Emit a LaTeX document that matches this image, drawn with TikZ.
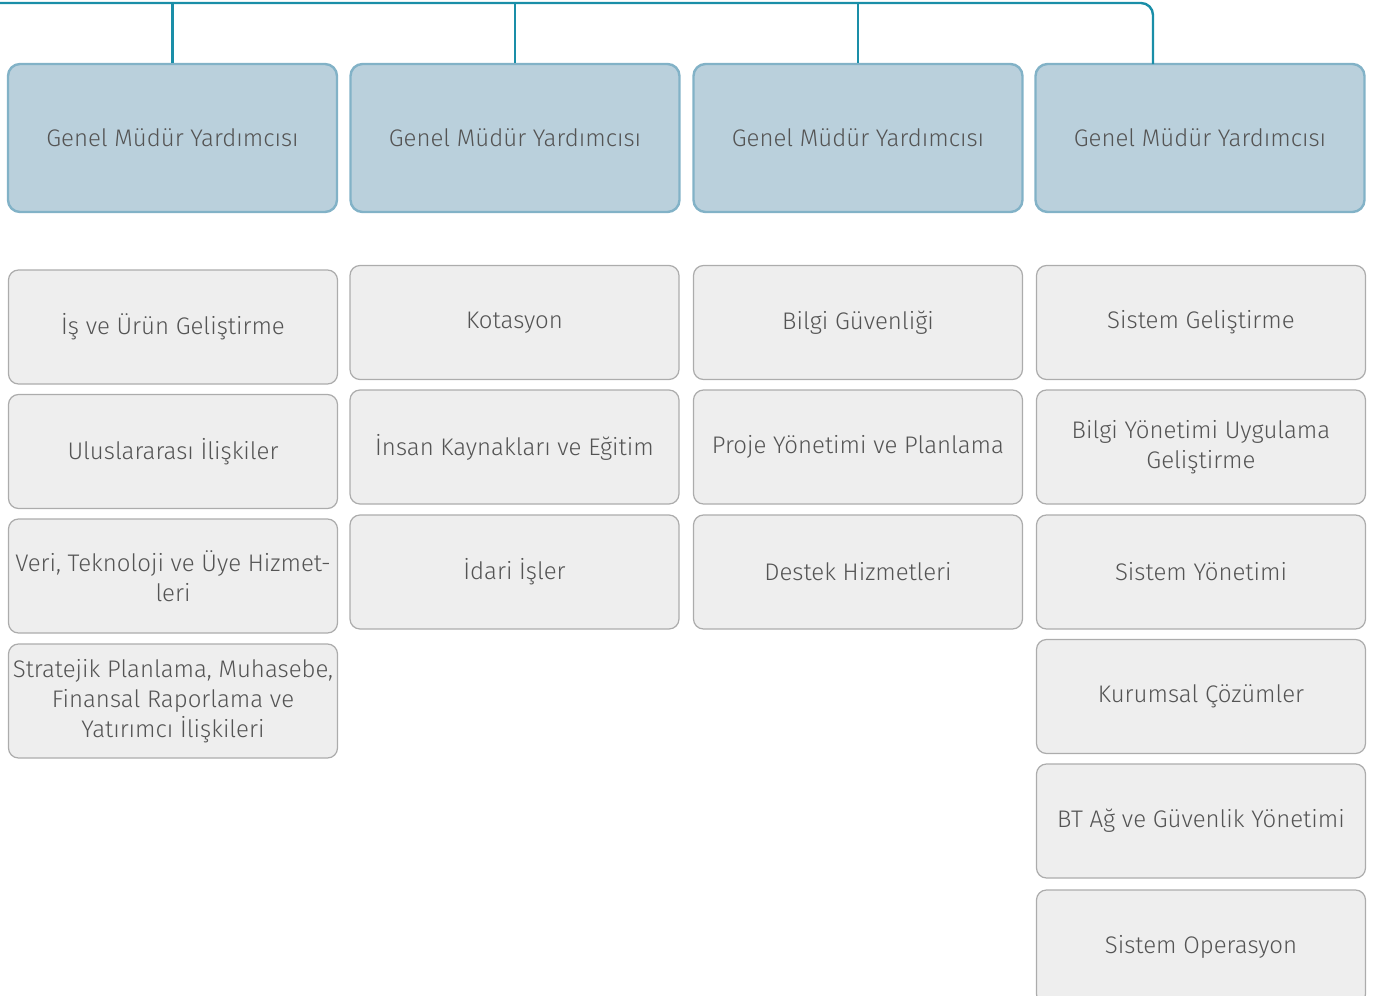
\documentclass[tikz,border=0pt]{standalone}
\usepackage{fontspec}
\setmainfont{Fira Sans Light}
\usepackage{tikz}
\usetikzlibrary{positioning}

\definecolor{hatmavi}{HTML}{1A8EA8}
\definecolor{gmydolgu}{HTML}{BAD0DC}
\definecolor{gmycizgi}{HTML}{82B2C7}
\definecolor{birimdolgu}{HTML}{EEEEEE}
\definecolor{birimcizgi}{HTML}{ACACAC}
\definecolor{yazi}{HTML}{545454}

\begin{document}
\begin{tikzpicture}[x=0.5pt, y=-0.5pt,
  gmy/.style={draw=gmycizgi, fill=gmydolgu, line width=1.2pt,
    rounded corners=6pt, minimum width=164.5pt, minimum height=74pt,
    text=yazi, font=\fontsize{12}{15}\selectfont},
  birim/.style={draw=birimcizgi, fill=birimdolgu, line width=0.6pt,
    rounded corners=5pt, minimum width=164.5pt, minimum height=57pt,
    text=yazi, align=center, inner sep=1pt, font=\fontsize{12}{15}\selectfont},
  hat/.style={draw=hatmavi, line width=1.2pt}]

\useasboundingbox (0,0) rectangle (1373,996);
\clip (0,0) rectangle (1373,996);

% genel mudur yardimcilari
\node[gmy] (gmy1) at (172.5,138) {Genel Müdür Yardımcısı};
\node[gmy] (gmy2) at (515,138) {Genel Müdür Yardımcısı};
\node[gmy] (gmy3) at (858,138) {Genel Müdür Yardımcısı};
\node[gmy] (gmy4) at (1200,138) {Genel Müdür Yardımcısı};

% baglanti hatti
\coordinate (bas) at (-5,3);
\coordinate (dusus) at (1153,64);
\draw[hat, rounded corners=6pt] (bas) -| (dusus);
\draw[hat] (gmy1.north) -- (gmy1.north |- bas);
\draw[hat] (gmy2.north) -- (gmy2.north |- bas);
\draw[hat] (gmy3.north) -- (gmy3.north |- bas);

% birinci sutun
\node[birim] (is) at (173,327) {İş ve Ürün Geliştirme};
\node[birim] (ulus) at (173,451.5) {Uluslararası İlişkiler};
\node[birim] (veri) at (173,576) {Veri, Teknoloji ve Üye Hizmet-\\leri};
\node[birim] (strateji) at (173,701) {Stratejik Planlama, Muhasebe,\\Finansal Raporlama ve\\Yatırımcı İlişkileri};

% ikinci sutun
\node[birim] (kota) at (514.5,322.5) {Kotasyon};
\node[birim] (insan) at (514.5,447) {İnsan Kaynakları ve Eğitim};
\node[birim] (idari) at (514.5,572) {İdari İşler};

% ucuncu sutun
\node[birim] (guvenlik) at (858,322.5) {Bilgi Güvenliği};
\node[birim] (proje) at (858,447) {Proje Yönetimi ve Planlama};
\node[birim] (destek) at (858,572) {Destek Hizmetleri};

% dorduncu sutun
\node[birim] (sistemgel) at (1201,322.5) {Sistem Geliştirme};
\node[birim] (bilgiyon) at (1201,447) {Bilgi Yönetimi Uygulama\\Geliştirme};
\node[birim] (sistemyon) at (1201,572) {Sistem Yönetimi};
\node[birim] (kurumsal) at (1201,696.5) {Kurumsal Çözümler};
\node[birim] (btag) at (1201,821) {BT Ağ ve Güvenlik Yönetimi};
\node[birim] (operasyon) at (1201,947) {Sistem Operasyon};

\end{tikzpicture}
\end{document}
